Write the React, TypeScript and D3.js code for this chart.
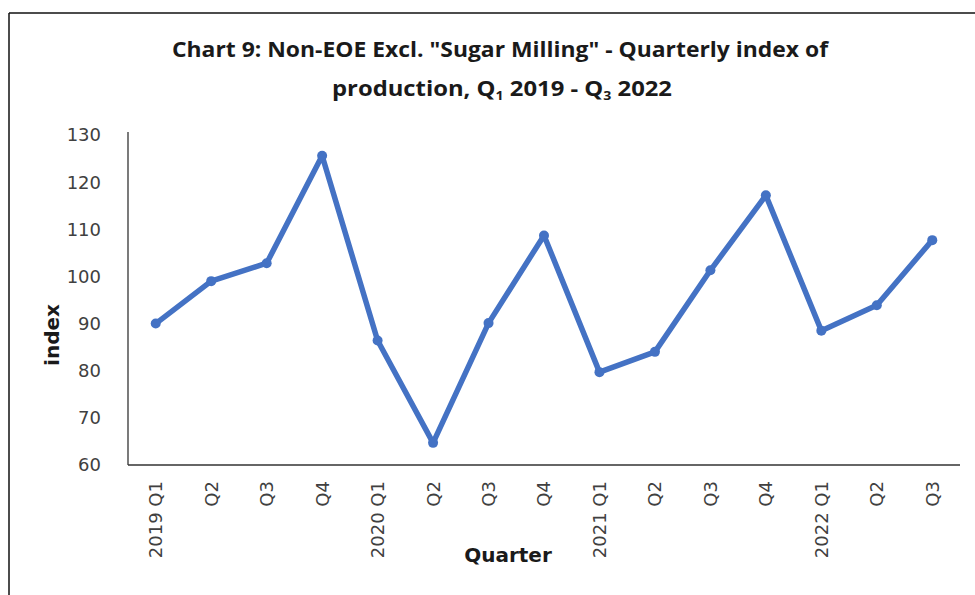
import * as d3 from 'd3'

const quarters = [
  '2019 Q1', 'Q2', 'Q3', 'Q4',
  '2020 Q1', 'Q2', 'Q3', 'Q4',
  '2021 Q1', 'Q2', 'Q3', 'Q4',
  '2022 Q1', 'Q2', 'Q3',
]
const indexValues = [90, 99, 102.8, 125.6, 86.4, 64.7, 90.1, 108.7, 79.7, 84, 101.3, 117.2, 88.5, 93.9, 107.7]
const yTicks = [60, 70, 80, 90, 100, 110, 120, 130]

const width = 975
const height = 595
const left = 128
const right = 960
const top = 135
const bottom = 465

const blue = '#4472C4'
const textGrey = '#404040'

let App = () => {
  let keys = quarters.map((q, i) => i)

  let x = d3.scaleBand<number>()
    .domain(keys)
    .range([left, right])

  let y = d3.scaleLinear()
    .domain([60, 130])
    .range([bottom, top])

  let cx = (i: number) => (x(i) ?? 0) + x.bandwidth() / 2

  let line = d3.line<number>()
    .x((d, i) => cx(i))
    .y(d => y(d))

  return (
    <svg width={width} height={height} style={{ position: 'absolute', left: 0, top: 0, background: '#fff' }}>
      <rect x={0} y={0} width={width} height={height} fill="#fff" />
      {/* chart frame: only top and left edges show */}
      <line x1={9} x2={width} y1={13} y2={13} stroke="#111" strokeWidth={1.5} />
      <line x1={9} x2={9} y1={13} y2={height} stroke="#111" strokeWidth={1.5} />

      <g fontFamily="'Open Sans', sans-serif" fontWeight="bold" fill="#1a1a1a" textAnchor="middle">
        <text x={500} y={57} fontSize={22} textLength={656} lengthAdjust="spacingAndGlyphs">
          Chart 9: Non-EOE Excl. "Sugar Milling" - Quarterly index of
        </text>
        <text x={502} y={96} fontSize={22} textLength={340} lengthAdjust="spacingAndGlyphs">
          production, Q<tspan fontSize={13} dy={4}>1</tspan><tspan dy={-4}> 2019 - Q</tspan><tspan fontSize={13} dy={4}>3</tspan><tspan dy={-4}> 2022</tspan>
        </text>
      </g>

      {/* axes */}
      <line x1={left} x2={left} y1={top - 3} y2={bottom} stroke="#333" strokeWidth={1.3} />
      <line x1={left} x2={right} y1={bottom} y2={bottom} stroke="#333" strokeWidth={1.3} />

      <g fontFamily="'DejaVu Sans', sans-serif" fontSize={18} fill={textGrey}>
        {yTicks.map(t => (
          <text key={t} x={101} y={y(t)} dy="0.36em" textAnchor="end">{t}</text>
        ))}
        {quarters.map((q, i) => (
          <text key={i} transform={`translate(${cx(i)},481) rotate(-90)`} dy="0.36em" textAnchor="end">{q}</text>
        ))}
      </g>

      <text transform="translate(52,335) rotate(-90)" textAnchor="middle" dy="0.36em"
        fontFamily="'DejaVu Sans', sans-serif" fontWeight="bold" fontSize={20} fill="#1a1a1a">index</text>
      <text x={508} y={562} textAnchor="middle"
        fontFamily="'DejaVu Sans', sans-serif" fontWeight="bold" fontSize={20} fill="#1a1a1a">Quarter</text>

      <path d={line(indexValues) ?? ''} fill="none" stroke={blue} strokeWidth={5.5} strokeLinejoin="round" />
      {indexValues.map((v, i) => (
        <circle key={i} cx={cx(i)} cy={y(v)} r={5} fill={blue} />
      ))}
    </svg>
  )
}

export default App
